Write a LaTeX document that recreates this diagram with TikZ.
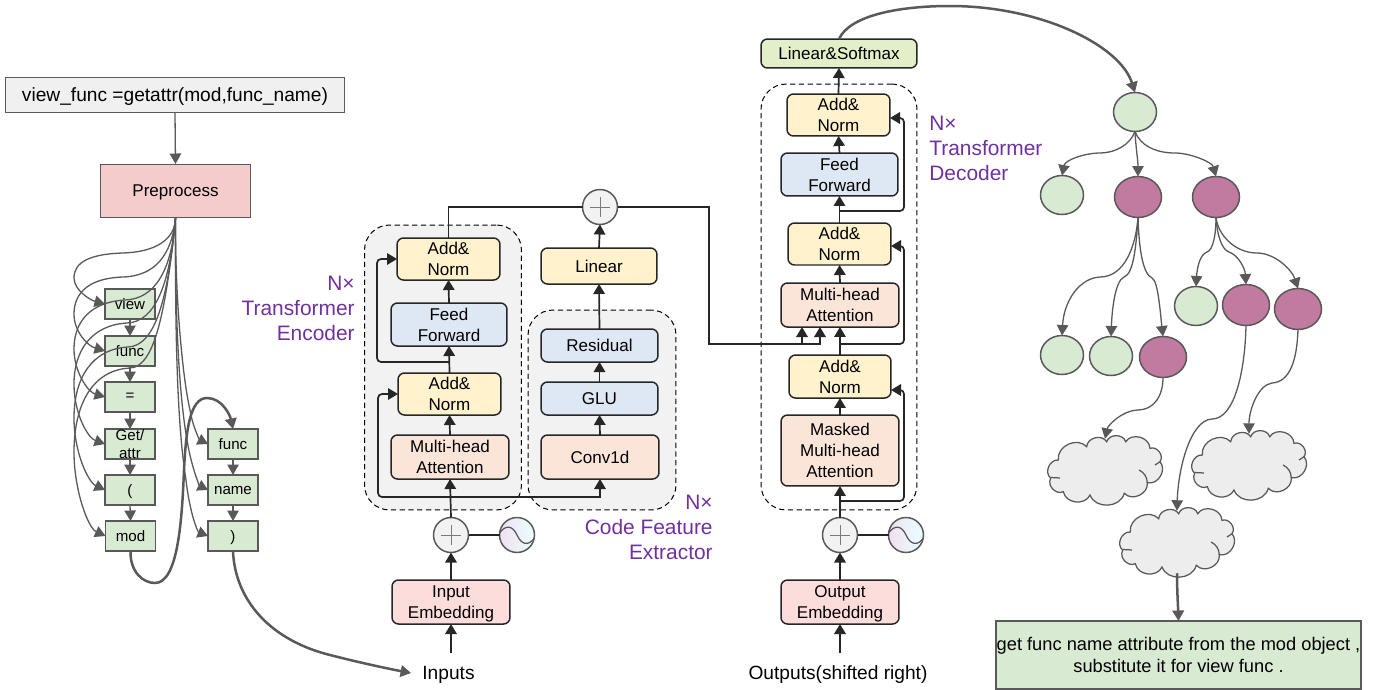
\documentclass[tikz,border=0pt]{standalone}
\usepackage{fontspec}
\setmainfont{Liberation Sans}
\usepackage{xcolor}
\usetikzlibrary{arrows.meta, shapes.geometric}

\definecolor{edgegrey}{HTML}{595959}
\definecolor{labelpurple}{HTML}{7030A0}
\definecolor{boxyellow}{HTML}{FFF2CC}
\definecolor{boxblue}{HTML}{DEE8F5}
\definecolor{boxpeach}{HTML}{FBE5D9}
\definecolor{boxred}{HTML}{FDDCDC}
\definecolor{boxlime}{HTML}{E2EFC9}
\definecolor{leafgreen}{HTML}{D9EAD3}
\definecolor{leafpurple}{HTML}{C27BA0}
\definecolor{headred}{HTML}{F4CCCC}

\tikzset{
    block/.style={draw=black!85, line width=.03cm, rounded corners=.13cm, inner sep=0pt, outer sep=0pt, align=center, text depth=0pt, font=\fontsize{9.7pt}{11.9pt}\selectfont},
    group/.style={draw=black, densely dashed, line width=.02cm, fill=black!5, rounded corners=.5cm, inner sep=0pt, outer sep=0pt},
    token/.style={draw=edgegrey, line width=.03cm, fill=leafgreen, minimum width=1cm, minimum height=.6cm, inner sep=0pt, outer sep=0pt, text depth=0pt, font=\fontsize{8.6pt}{10.4pt}\selectfont},
    leaf/.style={ellipse, draw=edgegrey, line width=.03cm, fill=leafgreen, minimum width=.86cm, minimum height=.78cm, inner sep=0pt, outer sep=0pt},
    hot/.style={leaf, fill=leafpurple, minimum width=.94cm, minimum height=.82cm},
    puffbox/.style={minimum width=2.32cm, minimum height=1.25cm, inner sep=0pt, outer sep=0pt},
    puffoutline/.pic={
        \draw[draw=edgegrey, line width=.025cm, fill=black!7, bend left=72, looseness=1.15] (-46.7,-10) to (-18.3,-23.3) to (1.7,-28.3) to (20.7,-28.3) to (45,-21.7) to (55,-8.3) to (42.3,12.7) to (19.3,23.3) to (-15,25) to (-41.7,21.7) to (-54.3,8.3) to (-46.7,-10) -- cycle;
        \draw[draw=edgegrey, line width=.025cm, bend left=30] (34,0) to (42.3,12.7);
        \draw[draw=edgegrey, line width=.025cm] (-54.3,7.5) -- (-45,8);
        \draw[draw=edgegrey, line width=.025cm] (50,-5) -- (55,-8.3);
    },
    purpletext/.style={text=labelpurple, inner sep=0pt, font=\fontsize{11.9pt}{14.2pt}\selectfont},
    plain/.style={inner sep=0pt, text depth=0pt, font=\fontsize{10.9pt}{13pt}\selectfont},
    sumnode/.style={circle, draw=edgegrey, line width=.03cm, fill=black!5, minimum size=.7cm, inner sep=0pt, outer sep=0pt,
        path picture={\draw[edgegrey!80, line width=.018cm] ([xshift=-.2cm]path picture bounding box.center) -- ([xshift=.2cm]path picture bounding box.center);
                      \draw[edgegrey!80, line width=.018cm] ([yshift=-.2cm]path picture bounding box.center) -- ([yshift=.2cm]path picture bounding box.center);}},
    wavenode/.style={circle, draw=edgegrey, line width=.03cm, left color=violet!12, right color=cyan!8, minimum size=.7cm, inner sep=0pt, outer sep=0pt,
        path picture={\draw[edgegrey, line width=.025cm] ([shift={(-17.5,-2)}]path picture bounding box.center) .. controls ([shift={(-11,-11)}]path picture bounding box.center) and ([shift={(-4,-9)}]path picture bounding box.center) .. (path picture bounding box.center) .. controls ([shift={(4,9)}]path picture bounding box.center) and ([shift={(11,12)}]path picture bounding box.center) .. ([shift={(17.5,3)}]path picture bounding box.center);}},
    blackline/.style={draw=black!85, line width=.034cm},
    blackarrow/.style={blackline, -{Triangle[width=.23cm,length=.2cm]}},
    greyline/.style={draw=edgegrey, line width=.026cm, -{Triangle[width=.23cm,length=.21cm]}},
    greythick/.style={draw=edgegrey, line width=.05cm, -{Triangle[width=.23cm,length=.21cm]}}
}

\begin{document}
\begin{tikzpicture}[x=.02cm, y=-.02cm]
    \useasboundingbox (0,0) rectangle (1380,690);

    % grey groups behind the blocks
    \node[group, minimum width=3.14cm, minimum height=5.7cm] (encgroup) at (443,367.5) {};
    \node[group, minimum width=2.96cm, minimum height=4cm] (codegroup) at (602,410) {};
    \node[group, fill=white, minimum width=3.12cm, minimum height=8.52cm] (decgroup) at (839,297) {};

    % left column
    \node[draw=edgegrey, line width=.02cm, fill=black!6, minimum width=6.8cm, minimum height=.72cm, inner sep=0pt, outer sep=0pt, text depth=0pt, font=\fontsize{10.9pt}{13pt}\selectfont] (getattr) at (175,95) {view\_func =getattr(mod,func\_name)};
    \node[draw=edgegrey, line width=.02cm, fill=headred, minimum width=3.02cm, minimum height=1.08cm, inner sep=0pt, outer sep=0pt, text depth=0pt, font=\fontsize{9.7pt}{11.9pt}\selectfont] (preprocess) at (175.5,191) {Preprocess};

    \node[token] (view) at (130,304) {view};
    \node[token] (func) at (130,351) {func};
    \node[token] (eq) at (130,397) {=};
    \node[token, label={[font=\fontsize{8.6pt}{10.6pt}\selectfont, align=center, inner sep=0pt]center:Get/\\attr}] (get) at (130,444) {};
    \node[token] (paren) at (130,490) {(};
    \node[token] (mod) at (130.5,536) {mod};

    \node[token] (fname) at (233,444) {func};
    \node[token] (nm) at (233,490) {name};
    \node[token] (close) at (233,536) {)};

    % encoder
    \node[block, fill=boxyellow, minimum width=2.06cm, minimum height=.84cm] (encaddt) at (448.5,259) {Add\&\\Norm};
    \node[block, fill=boxblue, minimum width=2.32cm, minimum height=.86cm] (encff) at (449,324.5) {Feed\\Forward};
    \node[block, fill=boxyellow, minimum width=2.06cm, minimum height=.84cm] (encaddb) at (449.5,394) {Add\&\\Norm};
    \node[block, fill=boxpeach, minimum width=2.36cm, minimum height=.88cm] (encmha) at (450,457) {Multi-head\\Attention};
    \node[sumnode] (encsum) at (451,535) {};
    \node[wavenode] (encwave) at (517,535) {};
    \node[block, fill=boxred, minimum width=2.36cm, minimum height=.88cm] (inemb) at (451,602) {Input\\Embedding};
    \node[plain, inner sep=.22cm] (inputs) at (448.5,673) {Inputs};

    % code feature extractor
    \node[block, fill=boxyellow, minimum width=2.32cm, minimum height=.72cm] (linear) at (599,266) {Linear};
    \node[block, fill=boxblue, minimum width=2.34cm, minimum height=.66cm] (resid) at (599.5,345.5) {Residual};
    \node[block, fill=boxblue, minimum width=2.34cm, minimum height=.66cm] (glu) at (599.5,398.5) {GLU};
    \node[block, fill=boxpeach, minimum width=2.36cm, minimum height=.88cm] (conv) at (600,457) {Conv1d};
    \node[sumnode] (topsum) at (600,207) {};

    % decoder
    \node[block, fill=boxlime, minimum width=3.12cm, minimum height=.58cm] (softmax) at (839,53.5) {Linear\&Softmax};
    \node[block, fill=boxyellow, minimum width=2.06cm, minimum height=.84cm] (decadda) at (838.5,115) {Add\&\\Norm};
    \node[block, fill=boxblue, minimum width=2.34cm, minimum height=.86cm] (decff) at (839.5,174.5) {Feed\\Forward};
    \node[block, fill=boxyellow, minimum width=2.06cm, minimum height=.84cm] (decaddb) at (839.5,244) {Add\&\\Norm};
    \node[block, fill=boxpeach, minimum width=2.36cm, minimum height=.88cm] (decmha) at (840,305) {Multi-head\\Attention};
    \node[block, fill=boxyellow, minimum width=2.04cm, minimum height=.86cm] (decaddc) at (840,376.5) {Add\&\\Norm};
    \node[block, fill=boxpeach, minimum width=2.36cm, minimum height=1.42cm] (decmask) at (840,450.5) {Masked\\Multi-head\\Attention};
    \node[sumnode] (decsum) at (840,535) {};
    \node[wavenode] (decwave) at (906,535) {};
    \node[block, fill=boxred, minimum width=2.36cm, minimum height=.88cm] (outemb) at (840,602) {Output\\Embedding};
    \node[plain] (outputs) at (838,673) {Outputs(shifted right)};

    % purple captions
    \node[purpletext, align=right, anchor=east] (enccap) at (355,308) {N×\\Transformer\\Encoder};
    \node[purpletext, align=right, anchor=east] (codecap) at (713,527) {N×\\Code Feature\\Extractor};
    \node[purpletext, align=left, anchor=west] (deccap) at (929,148) {N×\\Transformer\\Decoder};

    % tree
    \node[leaf] (root) at (1135,112) {};
    \node[leaf] (lefta) at (1062,195) {};
    \node[hot] (hota) at (1138,197) {};
    \node[hot] (hotb) at (1216,197) {};
    \node[leaf] (leftb) at (1062,355) {};
    \node[leaf] (leftc) at (1111,356) {};
    \node[hot] (hotc) at (1163,357) {};
    \node[leaf] (leftd) at (1196,306) {};
    \node[hot] (hotd) at (1246,305) {};
    \node[hot] (hote) at (1298,309) {};
    \pic at (1105,470) {puffoutline};
    \pic at (1249,465) {puffoutline};
    \pic at (1177,542) {puffoutline};
    \node[puffbox] (clouda) at (1105,470) {};
    \node[puffbox] (cloudb) at (1249,465) {};
    \node[puffbox] (cloudc) at (1177,542) {};
    \node[draw=edgegrey, line width=.03cm, fill=leafgreen, minimum width=7.3cm, minimum height=1.36cm, inner sep=0pt, outer sep=0pt, align=center, font=\fontsize{10.4pt}{13pt}\selectfont] (note) at (1178.5,655) {get func name attribute from the mod object ,\\substitute it for view func .};

    % branch points
    \coordinate (enctapa) at (451,497);
    \coordinate (enctapb) at (449,362);
    \coordinate (cross) at (709,344);
    \coordinate (crossa) at (802,344);
    \coordinate (crossb) at (820,344);
    \coordinate (mhaa) at (802,327);
    \coordinate (mhab) at (820,327);
    \coordinate (dectapa) at (840,501);
    \coordinate (dectapb) at (840,344);
    \coordinate (dectapc) at (840,211);
    \coordinate (decbenda) at (904,390);
    \coordinate (decbendb) at (904,246);
    \coordinate (decbendc) at (904,118);
    \coordinate (decina) at (891,390);
    \coordinate (decinb) at (891,246);
    \coordinate (decinc) at (890,118);
    \coordinate (instart) at (451,653);
    \coordinate (outstart) at (840,653);

    % encoder arrows
    \draw[blackarrow] (instart) -- (inemb.south);
    \draw[blackarrow] (inemb.north) -- (encsum.south);
    \draw[blackarrow] (encsum.north) -- (encmha.south);
    \draw[blackline] (encsum.east) -- (encwave.west);
    \draw[blackarrow] (encmha.north) -- (encaddb.south);
    \draw[blackarrow] (encaddb.north) -- (encff.south);
    \draw[blackarrow] (encff.north) -- (encaddt.south);
    \draw[blackarrow, rounded corners=.08cm] (enctapa) -| ([xshift=-.4cm]encaddb.west) -- (encaddb.west);
    \draw[blackarrow, rounded corners=.08cm] (enctapb) -| ([xshift=-.4cm]encaddt.west) -- (encaddt.west);
    \draw[blackarrow] (enctapa) -| (conv.south);
    \draw[blackline] (encaddt.north) |- (topsum.west);

    % extractor arrows
    \draw[blackarrow] (conv.north) -- (glu.south);
    \draw[blackarrow] (glu.north) -- (resid.south);
    \draw[blackarrow] (resid.north) -- (linear.south);
    \draw[blackarrow] (linear.north) -- (topsum.south);
    \draw[blackline] (topsum.east) -| (cross) -- (crossa);
    \draw[blackarrow] (crossa) -- (mhaa);
    \draw[blackarrow] (crossa) -- (crossb) -- (mhab);

    % decoder arrows
    \draw[blackarrow] (outstart) -- (outemb.south);
    \draw[blackarrow] (outemb.north) -- (decsum.south);
    \draw[blackline] (decsum.east) -- (decwave.west);
    \draw[blackarrow] (decsum.north) -- (decmask.south);
    \draw[blackarrow] (decmask.north) -- (decaddc.south);
    \draw[blackarrow] (decaddc.north) -- (decmha.south);
    \draw[blackarrow] (decmha.north) -- (decaddb.south);
    \draw[blackarrow] (decaddb.north) -- (decff.south);
    \draw[blackarrow] (decff.north) -- (decadda.south);
    \draw[blackarrow] (decadda.north) -- (softmax.south);
    \draw[blackarrow, rounded corners=.08cm] (dectapa) -| (decbenda) -- (decina);
    \draw[blackarrow, rounded corners=.08cm] (dectapb) -| (decbendb) -- (decinb);
    \draw[blackarrow, rounded corners=.08cm] (dectapc) -| (decbendc) -- (decinc);

    % left column arrows
    \draw[greyline] (getattr.south) -- (preprocess.north);
    \draw[greyline] (view.south) -- (func.north);
    \draw[greyline] (func.south) -- (eq.north);
    \draw[greyline] (eq.south) -- (get.north);
    \draw[greyline] (get.south) -- (paren.north);
    \draw[greyline] (paren.south) -- (mod.north);
    \draw[greyline] (fname.south) -- (nm.north);
    \draw[greyline] (nm.south) -- (close.north);

    \draw[greyline] (preprocess.south) .. controls (175,240) and (155,252) .. (123,253) .. controls (90,254) and (74,262) .. (74,278) .. controls (74,290) and (90,300) .. (view.west);
    \draw[greyline] (preprocess.south) .. controls (172,255) and (155,276) .. (123,277) .. controls (90,278) and (74,292) .. (74,314) .. controls (74,332) and (88,346) .. (func.west);
    \draw[greyline] (preprocess.south) .. controls (172,270) and (155,299) .. (125,300) .. controls (90,302) and (74,322) .. (74,349) .. controls (74,372) and (88,392) .. (eq.west);
    \draw[greyline] (preprocess.south) .. controls (170,285) and (155,322) .. (127,323) .. controls (92,325) and (74,350) .. (74,384) .. controls (74,414) and (88,438) .. (get.west);
    \draw[greyline] (preprocess.south) .. controls (168,300) and (155,346) .. (128,347) .. controls (92,349) and (74,378) .. (74,418) .. controls (74,452) and (88,482) .. (paren.west);
    \draw[greyline] (preprocess.south) .. controls (166,310) and (155,367) .. (130,368) .. controls (92,370) and (74,405) .. (74,452) .. controls (74,490) and (88,528) .. (mod.west);

    \draw[greyline] (preprocess.south) .. controls (175,300) and (183,380) .. (190,410) .. controls (193,428) and (200,440) .. (fname.west);
    \draw[greyline] (preprocess.south) .. controls (175,330) and (180,400) .. (187,440) .. controls (192,470) and (200,486) .. (nm.west);
    \draw[greyline] (preprocess.south) .. controls (175,350) and (178,430) .. (186,480) .. controls (190,515) and (198,532) .. (close.west);

    \draw[greythick] (mod.south) .. controls (130,572) and (143,583) .. (155,583) .. controls (178,583) and (182,520) .. (184,470) .. controls (186,430) and (190,398) .. (207,398) .. controls (222,398) and (230,415) .. (fname.north);
    \draw[greythick] (close.south) .. controls (235,600) and (270,640) .. (330,655) .. controls (365,664) and (395,670) .. (inputs.west);
    \draw[greythick] (softmax.north) .. controls (850,15) and (900,6) .. (950,6) .. controls (1040,6) and (1120,45) .. (root.north);

    % tree arrows
    \draw[greyline] (root.south) .. controls (1130,145) and (1115,153) .. (1100,153) .. controls (1085,153) and (1065,160) .. (lefta.north);
    \draw[greyline] (root.south) .. controls (1136,150) and (1138,160) .. (hota.north);
    \draw[greyline] (root.south) .. controls (1140,145) and (1155,153) .. (1175,153) .. controls (1190,153) and (1212,162) .. (hotb.north);
    \draw[greyline] (hota.south) .. controls (1136,245) and (1125,277) .. (1100,277) .. controls (1080,278) and (1064,300) .. (leftb.north);
    \draw[greyline] (hota.south) .. controls (1136,250) and (1133,274) .. (1124,277) .. controls (1115,281) and (1112,310) .. (leftc.north);
    \draw[greyline] (hota.south) .. controls (1139,250) and (1143,274) .. (1152,278) .. controls (1158,281) and (1160,310) .. (hotc.north);
    \draw[greyline] (hotb.south) .. controls (1216,235) and (1213,250) .. (1207,252) .. controls (1199,255) and (1197,270) .. (leftd.north);
    \draw[greyline] (hotb.south) .. controls (1217,235) and (1222,250) .. (1229,252) .. controls (1238,255) and (1245,268) .. (hotd.north);
    \draw[greyline] (hotb.south) .. controls (1218,235) and (1235,253) .. (1257,253) .. controls (1275,253) and (1292,270) .. (hote.north);
    \draw[greyline] (hotc.south) .. controls (1163,395) and (1155,410) .. (1137,410) .. controls (1122,411) and (1108,425) .. (clouda.north);
    \draw[greyline] (hotd.south) .. controls (1245,370) and (1235,419) .. (1212,419) .. controls (1190,420) and (1178,470) .. (cloudc.north);
    \draw[greyline] (hote.south) .. controls (1297,360) and (1290,382) .. (1272,383) .. controls (1258,385) and (1249,410) .. (cloudb.north);
    \draw[greythick] (cloudc.south) .. controls (1177,590) and (1178,605) .. (note.north);
\end{tikzpicture}
\end{document}
